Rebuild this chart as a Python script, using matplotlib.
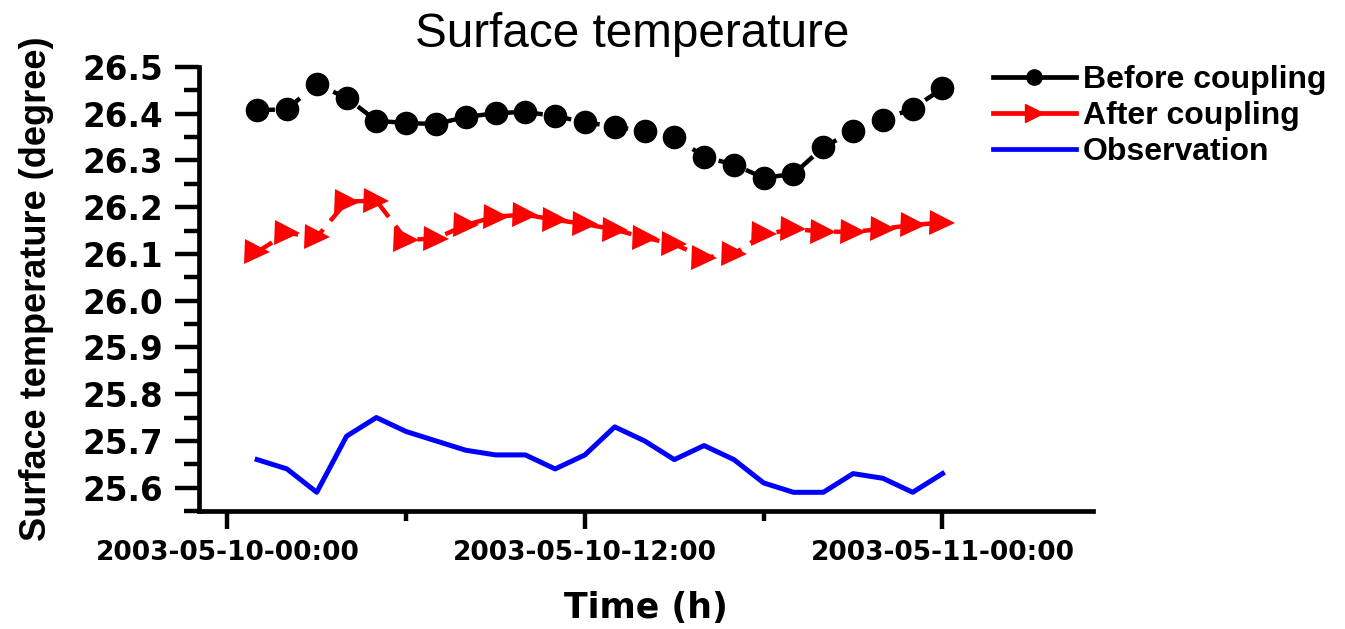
import numpy as np
import matplotlib
matplotlib.use("Agg")
import matplotlib.pyplot as plt
from matplotlib.lines import Line2D

# hourly values, 2003-05-10 01:00 .. 2003-05-11 00:00
hours = np.arange(1, 25)
before = [26.407, 26.410, 26.463, 26.434, 26.385, 26.380, 26.378, 26.393,
          26.401, 26.404, 26.395, 26.382, 26.372, 26.363, 26.351, 26.308,
          26.291, 26.263, 26.271, 26.328, 26.363, 26.387, 26.411, 26.454]
after = [26.104, 26.145, 26.136, 26.212, 26.214, 26.130, 26.133, 26.162,
         26.180, 26.184, 26.173, 26.164, 26.152, 26.135, 26.121, 26.092,
         26.100, 26.142, 26.153, 26.148, 26.147, 26.154, 26.162, 26.167]
observed = [25.66, 25.64, 25.59, 25.71, 25.75, 25.72, 25.70, 25.68,
            25.67, 25.67, 25.64, 25.67, 25.73, 25.70, 25.66, 25.69,
            25.66, 25.61, 25.59, 25.59, 25.63, 25.62, 25.59, 25.63]
xtick_pos = [0, 12, 24]
xtick_labels = ["2003-05-10-00:00", "2003-05-10-12:00", "2003-05-11-00:00"]
series_names = ["Before coupling", "After coupling", "Observation"]

plt.rcParams['font.family'] = ['DejaVu Sans']
plt.rcParams['font.weight'] = 'bold'

fig = plt.figure(figsize=(13.45, 6.29), dpi=100)
ax = fig.add_axes([0.148, 0.1876, 0.6646, 0.7059])

ax.plot(hours, observed, color="#0000ff", lw=3.6, zorder=2)
ax.plot(hours, after, color="#ff0000", lw=3.2, dashes=(4, 2.5), marker=">",
        ms=18, mec="#ff0000", mfc="#ff0000", mew=0, zorder=3)
ax.plot(hours, before, color="black", lw=3.2, dashes=(4, 2.5), marker="o",
        ms=17, mew=0, zorder=3)

ax.set_xlim(-0.95, 29.05)
ax.set_ylim(25.55, 26.5)
ax.set_yticks(np.arange(25.6, 26.51, 0.1))
ax.set_yticks(np.arange(25.55, 26.51, 0.1), minor=True)
ax.set_yticklabels(["%.1f" % v for v in np.arange(25.6, 26.51, 0.1)])
ax.set_xticks(xtick_pos)
ax.set_xticks([6, 18], minor=True)
ax.set_xticklabels(xtick_labels)

for s in ["top", "right"]:
    ax.spines[s].set_visible(False)
for s in ["left", "bottom"]:
    ax.spines[s].set_linewidth(3.4)
    ax.spines[s].set_capstyle("projecting")

ax.tick_params(axis="y", which="major", length=17, width=3.2, labelsize=23.5, pad=9)
ax.tick_params(axis="y", which="minor", length=11, width=3.2)
ax.tick_params(axis="x", which="major", length=13, width=3.2, labelsize=19, pad=8)
ax.tick_params(axis="x", which="minor", length=7, width=3.2)

ax.set_ylabel("Surface temperature (degree)", fontsize=26, fontweight="bold",
              family="Liberation Sans", labelpad=20)
ax.set_xlabel("Time (h)", fontsize=25, fontweight="bold", labelpad=18)
fig.text(0.47, 0.925, "Surface temperature", fontsize=34.3, fontweight="normal",
         family="Liberation Sans", ha="center", va="baseline")

handles = [
    Line2D([], [], color="black", lw=3.4, marker="o", ms=11),
    Line2D([], [], color="#ff0000", lw=3.4, marker=">", ms=13),
    Line2D([], [], color="#0000ff", lw=3.4),
]
fig.legend(handles, series_names, loc="upper left", bbox_to_anchor=(0.738, 0.896),
           frameon=False, prop={"family": "Liberation Sans", "weight": "bold", "size": 23},
           handlelength=2.6, handletextpad=0.22, labelspacing=0.18,
           borderaxespad=0, borderpad=0)

fig.savefig("out.png", dpi=100)
